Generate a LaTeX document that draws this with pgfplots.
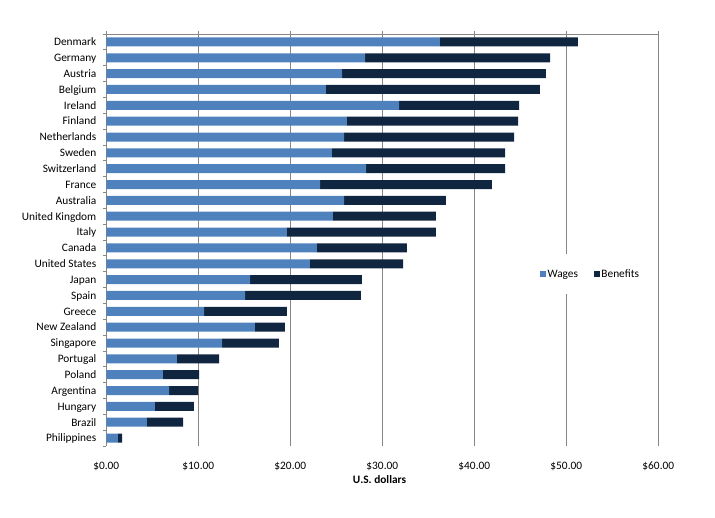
\documentclass[border=0pt]{standalone}
\usepackage{fontspec}
\setmainfont{Carlito}
\usepackage{pgfplots}
\usepackage{pgfplotstable}
\pgfplotsset{compat=1.18}
\definecolor{wages}{HTML}{4F81BD}
\definecolor{benefits}{HTML}{10253F}
\definecolor{gridgray}{HTML}{868686}

\pgfplotstableread[col sep=comma]{
country,wages,benefits
Denmark,36.27,15.00
Germany,28.12,20.11
Austria,25.62,22.17
Belgium,23.88,23.26
Ireland,31.82,13.04
Finland,26.16,18.59
Netherlands,25.84,18.48
Sweden,24.53,18.81
Switzerland,28.23,15.11
France,23.23,18.69
Australia,25.84,11.08
United Kingdom,24.64,11.19
Italy,19.64,16.19
Canada,22.90,9.78
United States,22.14,10.11
Japan,15.62,12.17
Spain,15.08,12.60
Greece,10.62,9.02
New Zealand,16.15,3.27
Singapore,12.58,6.19
Portugal,7.68,4.57
Poland,6.16,3.92
Argentina,6.82,3.15
Hungary,5.29,4.24
Brazil,4.42,3.92
Philippines,1.27,0.44
}\data

\begin{document}
\begin{tikzpicture}
\useasboundingbox (0,0) rectangle (715bp,518bp);
\begin{axis}[
  at={(106.3bp,72bp)}, anchor=south west,
  scale only axis, width=552bp, height=412bp,
  xbar stacked, bar width=9bp,
  xmin=0, xmax=60, ymin=-0.5, ymax=25.5, y dir=reverse,
  axis line style={draw=none},
  font=\fontsize{11.4}{13}\selectfont,
  xtick={0,10,...,60},
  xticklabels={\$0.00,\$10.00,\$20.00,\$30.00,\$40.00,\$50.00,\$60.00},
  xtick pos=right, xticklabel pos=left,
  xticklabel style={anchor=base, yshift=-20bp, inner sep=0pt},
  ytick={-0.5,0.5,...,25.5}, yticklabels={},
  ytick pos=left,
  extra y ticks={0,1,...,25},
  extra y tick labels={Denmark,Germany,Austria,Belgium,Ireland,Finland,Netherlands,Sweden,Switzerland,France,Australia,United Kingdom,Italy,Canada,United States,Japan,Spain,Greece,New Zealand,Singapore,Portugal,Poland,Argentina,Hungary,Brazil,Philippines},
  extra y tick style={major tick length=0pt, tick style={draw=none},
     yticklabel style={anchor=base east, inner sep=0pt, xshift=-9.8bp, yshift=-3.8bp}},
  tick align=outside, major tick length=3bp,
  tick style={gridgray, line width=0.8bp},
  xmajorgrids, major grid style={gridgray, line width=0.8bp},
  xlabel={\bfseries U.S. dollars},
  xlabel style={at={(axis description cs:0.495,0)}, anchor=base, yshift=-37.4bp, inner sep=0pt},
  legend style={at={(axis description cs:0.8768,0.4167)}, anchor=center,
     draw=none, fill=white, inner xsep=8bp, inner ysep=14bp,
     legend columns=2, font=\fontsize{11.4}{13}\selectfont,
     nodes={inner sep=1.2bp},
     /tikz/every even column/.append style={column sep=15bp}},
  every axis plot post/.append style={legend image code/.code={\fill[##1] (0bp,-3bp) rectangle (6bp,3bp);}},
]
\addplot[fill=wages, draw=none] table[x=wages, y expr=\coordindex] {\data};
\addplot[fill=benefits, draw=none] table[x=benefits, y expr=\coordindex] {\data};
\legend{Wages,Benefits}
\draw[gridgray, line width=0.8bp] (axis description cs:0,0) -- (axis description cs:0,1) -- (axis description cs:1,1);
\end{axis}
\end{tikzpicture}
\end{document}
